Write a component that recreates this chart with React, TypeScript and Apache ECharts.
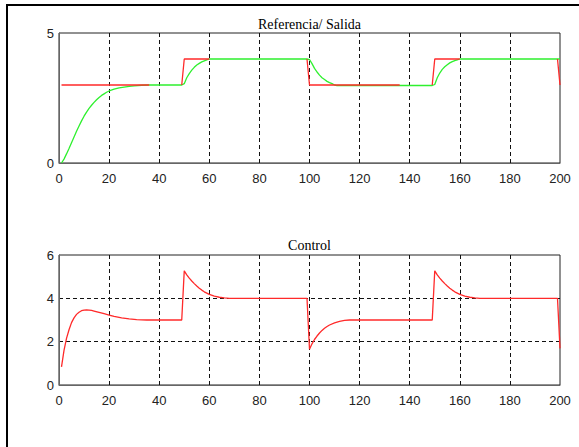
import React, { useEffect, useRef } from "react";
import * as echarts from "echarts";

// Time axis ticks
const timeTicks = [0, 20, 40, 60, 80, 100, 120, 140, 160, 180, 200];

// Salida (green), [t, value]
const salida: [number, number][] = [
  [1, 0], [2, 0.15], [3, 0.35], [4, 0.56], [5, 0.78], [6, 1.0], [7, 1.22], [8, 1.42],
  [9, 1.62], [10, 1.8], [11, 1.96], [12, 2.1], [13, 2.22], [14, 2.33], [15, 2.43],
  [16, 2.52], [17, 2.6], [18, 2.66], [19, 2.72], [20, 2.77], [22, 2.84], [24, 2.89],
  [26, 2.92], [28, 2.95], [30, 2.97], [33, 2.99], [36, 3.0], [49, 3.0], [50, 3.05],
  [51, 3.28], [52, 3.44], [53, 3.57], [54, 3.68], [55, 3.77], [56, 3.83], [57, 3.89],
  [58, 3.93], [59, 3.97], [60, 4.0], [99, 4.0], [100, 3.98], [101, 3.82], [102, 3.64],
  [103, 3.5], [104, 3.38], [105, 3.28], [106, 3.21], [107, 3.14], [108, 3.09],
  [109, 3.05], [110, 3.0], [111, 2.98], [149, 2.98], [150, 3.02], [151, 3.28],
  [152, 3.46], [153, 3.6], [154, 3.7], [155, 3.78], [156, 3.85], [157, 3.9],
  [158, 3.94], [159, 3.97], [160, 4.0], [200, 4.0],
];

// Referencia (red), visible pieces; "-" = gap
const referencia: [number, number | string][] = [
  [1, 3], [36, 3], [42, "-"],
  [49, 3], [50, 4], [60, 4], [80, "-"],
  [99, 4], [100, 3], [136, 3], [142, "-"],
  [149, 3], [150, 4], [160, 4], [180, "-"],
  [199, 4], [200, 3],
];

// Control (red), [t, value]
const control: [number, number][] = [
  [1, 0.84], [2, 1.6], [3, 2.15], [4, 2.55], [5, 2.88], [6, 3.1], [7, 3.26], [8, 3.36],
  [9, 3.43], [10, 3.46], [11, 3.47], [12, 3.46], [13, 3.44], [14, 3.41], [16, 3.35],
  [18, 3.29], [20, 3.23], [22, 3.17], [25, 3.1], [28, 3.05], [31, 3.02], [35, 3.0],
  [49, 3.0], [50, 5.27], [51, 5.08], [52, 4.93], [53, 4.8], [54, 4.68], [55, 4.57],
  [56, 4.47], [57, 4.38], [58, 4.3], [60, 4.18], [62, 4.1], [64, 4.05], [66, 4.02],
  [68, 4.0], [99, 4.0], [100, 1.65], [101, 1.9], [102, 2.1], [103, 2.26], [104, 2.4],
  [105, 2.52], [106, 2.62], [107, 2.7], [108, 2.77], [110, 2.87], [112, 2.94],
  [114, 2.98], [116, 3.0], [149, 3.0], [150, 5.27], [151, 5.08], [152, 4.93],
  [153, 4.8], [154, 4.68], [155, 4.57], [156, 4.47], [157, 4.38], [158, 4.3],
  [160, 4.18], [162, 4.1], [164, 4.05], [166, 4.02], [168, 4.0], [199, 4.0],
  [200, 1.69],
];

const labelFont = "'Liberation Sans', Arial, sans-serif";
const titleFont = "'Liberation Serif', 'Times New Roman', serif";

export default function App() {
  const ref = useRef<HTMLDivElement>(null);
  useEffect(() => {
    if (!ref.current) return;
    const chart = echarts.init(ref.current, undefined, { renderer: "svg" });
    const dashed = { color: "#111", type: [4, 3] as any, width: 1 };
    const xAxisBase = (gridIndex: number) => ({
      type: "value" as const,
      gridIndex,
      min: timeTicks[0],
      max: timeTicks[timeTicks.length - 1],
      interval: 20,
      axisLine: { show: true, lineStyle: { color: "#666", width: 1 } },
      axisTick: { show: false },
      axisLabel: { color: "#222", fontFamily: labelFont, fontSize: 13, margin: 9 },
      splitLine: { show: true, showMinLine: false, showMaxLine: false, lineStyle: dashed },
    });
    chart.setOption({
      animation: false,
      backgroundColor: "#fff",
      title: [
        {
          text: "Referencia/ Salida",
          left: 309.5,
          top: 17,
          textAlign: "center",
          padding: 0,
          textStyle: { fontFamily: titleFont, fontSize: 14, fontWeight: "normal", color: "#000" },
        },
        {
          text: "Control",
          left: 309.5,
          top: 238,
          textAlign: "center",
          padding: 0,
          textStyle: { fontFamily: titleFont, fontSize: 14, fontWeight: "normal", color: "#000" },
        },
      ],
      grid: [
        { left: 59, top: 33, width: 501, height: 130, show: true, borderColor: "#222", borderWidth: 1, backgroundColor: "transparent" },
        { left: 59, top: 255, width: 501, height: 130, show: true, borderColor: "#222", borderWidth: 1, backgroundColor: "transparent" },
      ],
      xAxis: [xAxisBase(0), xAxisBase(1)],
      yAxis: [
        {
          type: "value",
          gridIndex: 0,
          min: 0,
          max: 5,
          interval: 5,
          axisLine: { show: true, lineStyle: { color: "#666", width: 1 } },
          axisTick: { show: false },
          axisLabel: { color: "#222", fontFamily: labelFont, fontSize: 13, margin: 5 },
          splitLine: { show: false },
        },
        {
          type: "value",
          gridIndex: 1,
          min: 0,
          max: 6,
          interval: 2,
          axisLine: { show: true, lineStyle: { color: "#666", width: 1 } },
          axisTick: { show: false },
          axisLabel: { color: "#222", fontFamily: labelFont, fontSize: 13, margin: 5 },
          splitLine: { show: true, showMinLine: false, showMaxLine: false, lineStyle: dashed },
        },
      ],
      graphic: [
        { type: "line", shape: { x1: 7, y1: 4, x2: 7, y2: 447 }, style: { stroke: "#000", lineWidth: 2 } },
        { type: "line", shape: { x1: 6, y1: 5, x2: 579, y2: 5 }, style: { stroke: "#000", lineWidth: 2 } },
      ],
      series: [
        {
          name: "Salida",
          type: "line",
          xAxisIndex: 0,
          yAxisIndex: 0,
          data: salida,
          showSymbol: false,
          lineStyle: { color: "#2ef02e", width: 1.3 },
          itemStyle: { color: "#2ef02e" },
          z: 2,
        },
        {
          name: "Referencia",
          type: "line",
          xAxisIndex: 0,
          yAxisIndex: 0,
          data: referencia,
          showSymbol: false,
          connectNulls: false,
          lineStyle: { color: "#ff2a2a", width: 1.3 },
          itemStyle: { color: "#ff2a2a" },
          z: 3,
        },
        {
          name: "Control",
          type: "line",
          xAxisIndex: 1,
          yAxisIndex: 1,
          data: control,
          showSymbol: false,
          lineStyle: { color: "#ff2a2a", width: 1.3 },
          itemStyle: { color: "#ff2a2a" },
          z: 3,
        },
      ],
    });
    return () => chart.dispose();
  }, []);
  return (
    <div
      ref={ref}
      style={{ position: "absolute", left: 0, top: 0, width: 579, height: 447, background: "#fff" }}
    />
  );
}
